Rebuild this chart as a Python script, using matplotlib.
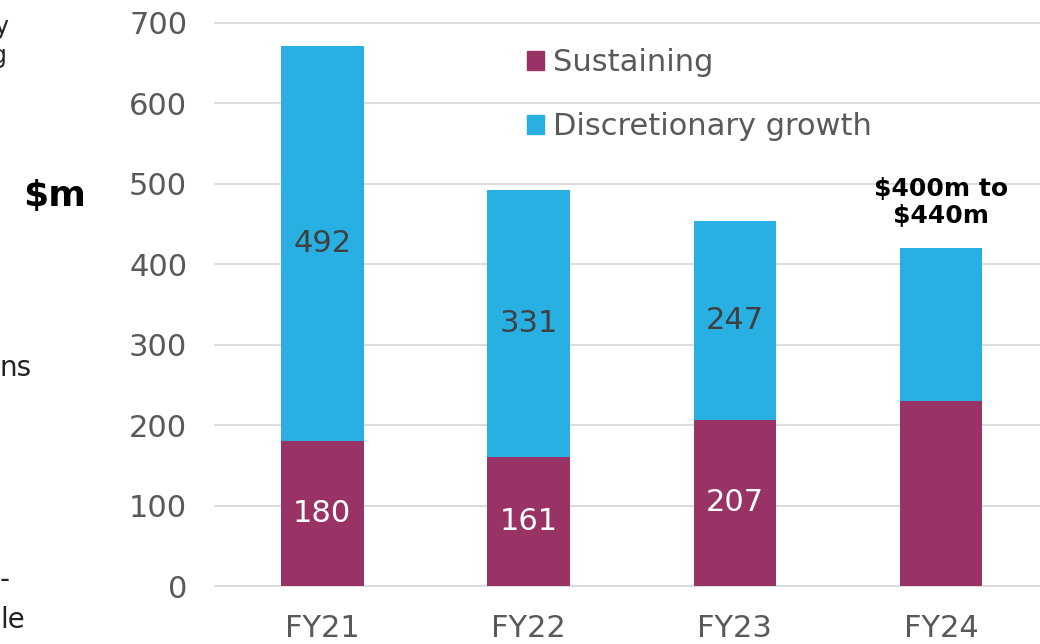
import matplotlib
matplotlib.use("Agg")
import matplotlib.pyplot as plt
from matplotlib.patches import Patch

categories = ["FY21", "FY22", "FY23", "FY24"]
sustaining = [180, 161, 207, 230]
discretionary = [492, 331, 247, 190]
sustaining_labels = ["180", "161", "207", ""]
discretionary_labels = ["492", "331", "247", ""]
yticks = [0, 100, 200, 300, 400, 500, 600, 700]

C_SUS = "#993366"
C_DIS = "#29B0E3"
GRAY = "#595959"

plt.rcParams['font.family'] = ['DejaVu Sans']
fig = plt.figure(figsize=(10.4, 6.44), dpi=100)
ax = fig.add_axes([215/1040, 1-586/644, 1-215/1040, (586-23)/644])

x = list(range(len(categories)))
b1 = ax.bar(x, sustaining, width=0.4, color=C_SUS, zorder=3)
b2 = ax.bar(x, discretionary, width=0.4, bottom=sustaining, color=C_DIS, zorder=3)
ax.bar_label(b1, labels=sustaining_labels, label_type='center', color='white', fontsize=22)
ax.bar_label(b2, labels=discretionary_labels, label_type='center', color='#404040', fontsize=22)

ax.set_xlim(-0.52, 3.48)
ax.set_ylim(0, 700)
ax.set_yticks(yticks)
ax.set_xticks(x)
ax.set_xticklabels(categories)
ax.grid(axis='y', color='#d9d9d9', linewidth=1.3, zorder=0)
for gl in ax.get_ygridlines():
    gl.set_clip_on(False)
for s in ax.spines.values():
    s.set_visible(False)
ax.tick_params(axis='both', length=0, labelsize=22, labelcolor=GRAY)
ax.tick_params(axis='y', pad=20)
ax.tick_params(axis='x', pad=20)

handles = [Patch(color=C_SUS, label="Sustaining"), Patch(color=C_DIS, label="Discretionary growth")]
ax.legend(handles=handles, loc='upper left', bbox_to_anchor=(0.378, 0.955), frameon=False,
          fontsize=22, labelcolor=GRAY, handlelength=0.55, handleheight=0.55,
          handletextpad=0.3, labelspacing=1.15, borderaxespad=0, borderpad=0)

ax.text(3, 445, "$400m to\n$440m", ha='center', va='bottom', fontsize=18,
        fontweight='bold', color='black', linespacing=1.15)

fig.text(55/1040, 1-196/644, "$m", ha='center', va='center', fontsize=26,
         fontweight='bold', color='black')
fig.text(8/1040, 1-27/644, "y", ha='right', va='center', fontsize=17, color='#222222')
fig.text(7/1040, 1-56/644, "g", ha='right', va='center', fontsize=17, color='#222222')
fig.text(0, 1-368/644, "ns", ha='left', va='center', fontsize=20, color='#222222')
fig.text(0, 1-580/644, "-", ha='left', va='center', fontsize=20, color='#222222')
fig.text(0, 1-620/644, "le", ha='left', va='center', fontsize=20, color='#222222')

fig.savefig("out.png", dpi=100)
